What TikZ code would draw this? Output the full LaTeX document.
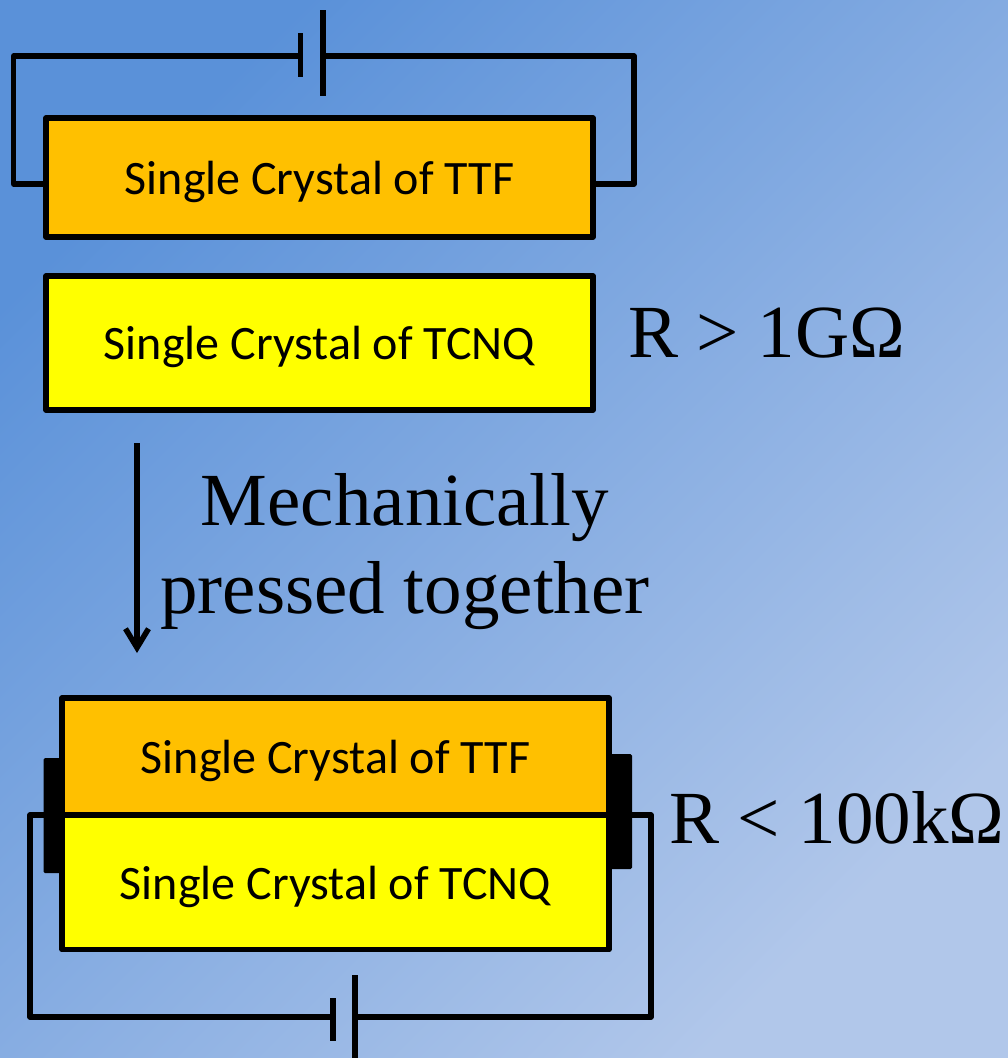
\documentclass[tikz,border=0pt]{standalone}
\usepackage{fontspec}
\setmainfont{Liberation Serif}
\newfontfamily\labelfont{Carlito}
\usetikzlibrary{arrows.meta}
\definecolor{bgA}{HTML}{5A91D9}
\definecolor{bgB}{HTML}{B1C7EA}
\definecolor{ttf}{HTML}{FFC000}
\definecolor{tcnq}{HTML}{FFFF00}
\tikzset{
  crystal/.style={draw=black,line width=5.6pt,line join=round,inner sep=0pt,outer sep=0pt,
    minimum width=547pt,text height=34pt,text depth=1pt,font=\labelfont\fontsize{48}{48}\selectfont,text=black},
  wire/.style={draw=black,line width=5.4pt,line join=round},
  plate/.style={fill=black,inner sep=0pt,outer sep=0pt,minimum width=5.5pt},
  contact/.style={fill=black,rounded corners=1.5pt,inner sep=0pt,outer sep=0pt},
  bigtext/.style={font=\fontsize{75}{87}\selectfont,text=black,inner sep=0pt,outer sep=0pt,align=center},
  press/.style={draw=black,line width=5.5pt,-{Straight Barb[length=19pt,width=23pt,line width=5.5pt]}}
}
\begin{document}
\begin{tikzpicture}[x=1pt,y=-1pt]
\useasboundingbox (0,0) rectangle (1008,1058);
\shade[shading=axis,top color=bgA,bottom color=bgB,shading angle=45] (0,0) rectangle (1008,1058);

% top circuit
\node[crystal,fill=ttf,minimum height=119pt] (A) at (319.5,177.5) {Single Crystal of TTF};
\node[crystal,fill=tcnq,minimum height=134pt] (B) at (319.5,343) {Single Crystal of TCNQ};
\node[plate,minimum height=44pt] (p1) at (300.5,55) {};
\node[plate,minimum height=86pt] (p2) at (323,53) {};
\coordinate (a1) at (13.5,184);
\coordinate (a2) at (13.5,56);
\coordinate (a3) at (634,56);
\coordinate (a4) at (634,184);
\draw[wire] (A.west |- a1) -- (a1) -- (a2) -- (p1.center |- a2);
\draw[wire] (p2.center |- a3) -- (a3) -- (a4) -- (A.east |- a4);

% arrow
\coordinate (s) at (137,443);
\coordinate (t) at (137,653);
\draw[press] (s) -- (t);

% labels
\node[bigtext,anchor=base west] (r1) at (628,357) {R > 1GΩ};
\node[bigtext,anchor=base] (m1) at (405,525) {Mechanically};
\node[bigtext,anchor=base] (m2) at (405,613) {pressed together};
\node[bigtext,anchor=base west] (r2) at (669,843) {R < 100kΩ};

% bottom assembly
\node[contact,minimum width=22pt,minimum height=115pt] (cl) at (54.5,815.5) {};
\node[contact,minimum width=26pt,minimum height=115pt] (cr) at (619,811.5) {};
\node[crystal,fill=ttf,minimum height=117pt] (C) at (335.5,756.5) {Single Crystal of TTF};
\node[crystal,fill=tcnq,minimum height=134pt] (D) at (335.5,882.5) {Single Crystal of TCNQ};
\node[plate,minimum height=43pt] (p3) at (333,1019.5) {};
\node[plate,minimum height=83pt] (p4) at (355,1016.5) {};
\coordinate (b1) at (30,815);
\coordinate (b2) at (30,1017);
\coordinate (b3) at (651,815);
\coordinate (b4) at (651,1017);
\draw[wire] (cl.west |- b1) -- (b1) -- (b2) -- (p3.center |- b2);
\draw[wire] (cr.east |- b3) -- (b3) -- (b4) -- (p4.center |- b4);
\end{tikzpicture}
\end{document}
